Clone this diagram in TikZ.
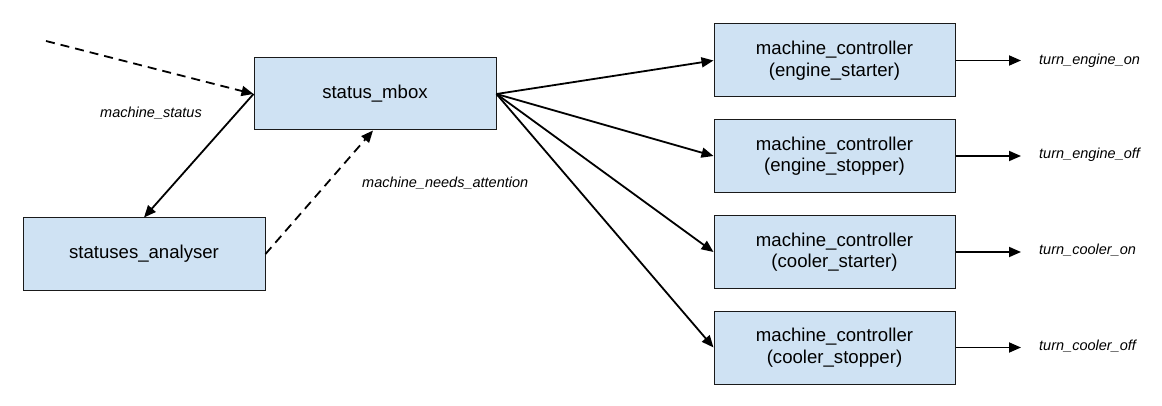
\documentclass[tikz,border=0pt]{standalone}
\usepackage{fontspec}
\setmainfont{Liberation Sans}
\usetikzlibrary{arrows.meta}
\definecolor{boxfill}{HTML}{CFE2F3}
\definecolor{boxline}{HTML}{1A1A1A}
\tikzset{
  box/.style={draw=boxline, line width=1pt, fill=boxfill, minimum width=242pt, minimum height=72pt, inner sep=0pt, align=center, font=\fontsize{18.6}{21.5}\selectfont},
  conn/.style={line width=1.8pt, -{Triangle[length=12pt,width=10pt]}},
  dconn/.style={conn, dash pattern=on 9pt off 6pt},
  lbl/.style={font=\fontsize{14.5}{17}\selectfont\itshape, inner sep=0pt}
}
\begin{document}
\begin{tikzpicture}[x=1pt,y=-1pt]
\useasboundingbox (0,0) rectangle (1162,406);
\node[box] (mbox) at (375,94) {status\_mbox};
\node[box] (an) at (144,254) {statuses\_analyser};
\node[box, minimum width=241pt, minimum height=73pt] (c1) at (834.5,60.5) {machine\_controller\\(engine\_starter)};
\node[box, minimum width=241pt, minimum height=73pt] (c2) at (834.5,156) {machine\_controller\\(engine\_stopper)};
\node[box, minimum width=241pt, minimum height=73pt] (c3) at (834.5,252) {machine\_controller\\(cooler\_starter)};
\node[box, minimum width=241pt, minimum height=73pt] (c4) at (834.5,347.5) {machine\_controller\\(cooler\_stopper)};
\coordinate (src) at (46,41);
\draw[dconn] (src) -- (mbox.west);
\draw[conn] (mbox.west) -- (an.north);
\draw[dconn] (an.east) -- ([xshift=-2pt]mbox.south);
\node[lbl] (ms) at (151,113) {machine\_status};
\node[lbl, anchor=west] (mna) at (362,183) {machine\_needs\_attention};
\foreach \i in {1,2,3,4} {
  \draw[conn] (mbox.east) -- (c\i.west);
}
\coordinate (o1) at (1021,60.5);
\coordinate (o2) at (1021,156);
\coordinate (o3) at (1021,252);
\coordinate (o4) at (1021,347.5);
\foreach \i in {1,2,3,4} {
  \draw[conn] (c\i.east) -- (o\i);
}
\node[lbl, anchor=west] (t1) at (1039,60.5) {turn\_engine\_on};
\node[lbl, anchor=west] (t2) at (1039,155) {turn\_engine\_off};
\node[lbl, anchor=west] (t3) at (1039,250) {turn\_cooler\_on};
\node[lbl, anchor=west] (t4) at (1039,346) {turn\_cooler\_off};
\end{tikzpicture}
\end{document}
